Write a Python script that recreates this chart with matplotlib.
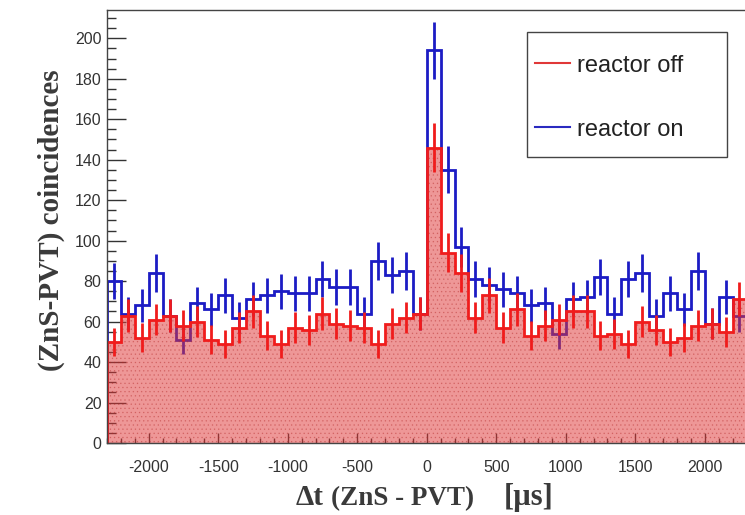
import numpy as np
import matplotlib
matplotlib.use("Agg")
import matplotlib.pyplot as plt
from matplotlib.ticker import MultipleLocator
from matplotlib.patches import Rectangle
from matplotlib.lines import Line2D

# 100 us bins from -2300 to 2300
bin_edges = np.arange(-2300, 2301, 100)

reactor_off = [50, 63, 52, 61, 63, 58, 60, 51, 49, 57,
               65, 53, 49, 57, 56, 64, 59, 58, 57, 49,
               59, 62, 64, 146, 94, 84, 62, 73, 57, 66,
               53, 58, 61, 65, 65, 53, 54, 49, 60, 56,
               50, 52, 58, 59, 55, 71]
reactor_on = [80, 64, 68, 84, 63, 51, 69, 66, 73, 62,
              71, 73, 75, 74, 74, 81, 77, 77, 64, 90,
              83, 85, 64, 194, 135, 97, 81, 78, 76, 74,
              68, 69, 54, 71, 72, 82, 64, 81, 84, 63,
              74, 66, 85, 59, 72, 63]

x_ticks = [-2000, -1500, -1000, -500, 0, 500, 1000, 1500, 2000]
y_ticks = [0, 20, 40, 60, 80, 100, 120, 140, 160, 180, 200]

W, H = 745, 515


def px(x, y):
    # pixel coords (from top-left) -> figure fraction
    return x / W, 1 - y / H


plt.rcParams['hatch.linewidth'] = 0.5
plt.rcParams['axes.unicode_minus'] = False

fig = plt.figure(figsize=(W / 100, H / 100), dpi=100)
ax = fig.add_axes([107 / W, 72 / H, (746.4 - 107) / W, 433 / H])

off = np.array(reactor_off, dtype=float)
on = np.array(reactor_on, dtype=float)
centers = (bin_edges[:-1] + bin_edges[1:]) / 2

blue = '#1c1cc4'
red = '#f01c1c'

# reactor on (drawn below the translucent red fill)
ax.stairs(on, bin_edges, color=blue, lw=2, zorder=2)
ax.vlines(centers, on - np.sqrt(on), on + np.sqrt(on), color=blue, lw=2, zorder=2)

# reactor off, filled
ax.stairs(off, bin_edges, fill=True, facecolor=(0.88, 0.22, 0.22, 0.52),
          edgecolor=(0.7, 0.15, 0.15, 0.35), hatch='....', lw=0, zorder=3)
ax.stairs(off, bin_edges, color=red, lw=2, zorder=4)
ax.vlines(centers, off - np.sqrt(off), off + np.sqrt(off), color=red, lw=2, zorder=4)

ax.set_xlim(-2300, 2300)
ax.set_ylim(0, 214)
ax.set_xticks(x_ticks)
ax.set_yticks(y_ticks)
ax.xaxis.set_minor_locator(MultipleLocator(100))
ax.yaxis.set_minor_locator(MultipleLocator(5))

tick_font = 'Liberation Sans'
ax.tick_params(axis='x', which='major', direction='in', length=7.2, width=1,
               pad=12, labelsize=11.5, labelcolor='#333333', color='#333333')
ax.tick_params(axis='x', which='minor', direction='in', length=3.6, width=1,
               color='#333333')
ax.tick_params(axis='y', which='major', direction='in', length=13.7, width=1,
               pad=4, labelsize=11.5, labelcolor='#333333', color='#333333')
ax.tick_params(axis='y', which='minor', direction='in', length=6.5, width=1,
               color='#333333')
ax.tick_params(top=False, right=False, which='both')
for lab in ax.get_xticklabels() + ax.get_yticklabels():
    lab.set_fontfamily(tick_font)

ax.spines['right'].set_visible(False)
for s in ['top', 'left', 'bottom']:
    ax.spines[s].set_color('#444444')
    ax.spines[s].set_linewidth(1)
    ax.spines[s].set_zorder(5)

# axis titles
serif = 'Liberation Serif'
fig.text(*px(51, 220), '(ZnS-PVT) coincidences', rotation=90, ha='center',
         va='center', fontsize=21, fontweight='bold', family=serif, color='#3a3a3a')
fig.text(*px(296, 505), '\u0394t', ha='left', va='baseline', fontsize=21,
         fontweight='bold', family=serif, color='#3a3a3a')
fig.text(*px(331, 505), '(ZnS - PVT)', ha='left', va='baseline', fontsize=19.5,
         fontweight='bold', family=serif, color='#3a3a3a')
fig.text(*px(554, 505), '[\u00b5s]', ha='right', va='baseline', fontsize=22,
         fontweight='bold', family=serif, color='#3a3a3a')

# legend box
x0, y0 = px(527, 157)
x1, y1 = px(727, 32)
fig.add_artist(Rectangle((x0, y0), x1 - x0, y1 - y0, transform=fig.transFigure,
                         facecolor='white', edgecolor='#444444', lw=1, zorder=10))
for yy, col, label in [(63, '#e03838', 'reactor off'), (127, '#2a2ac0', 'reactor on')]:
    lx0, ly = px(535, yy)
    lx1, _ = px(570, yy)
    fig.add_artist(Line2D([lx0, lx1], [ly, ly], color=col, lw=1.5,
                          transform=fig.transFigure, zorder=11))
    fig.text(*px(577, yy), label, ha='left', va='center_baseline', fontsize=17,
             family=tick_font, color='#222222', zorder=11)

fig.savefig('out.png', dpi=100)
